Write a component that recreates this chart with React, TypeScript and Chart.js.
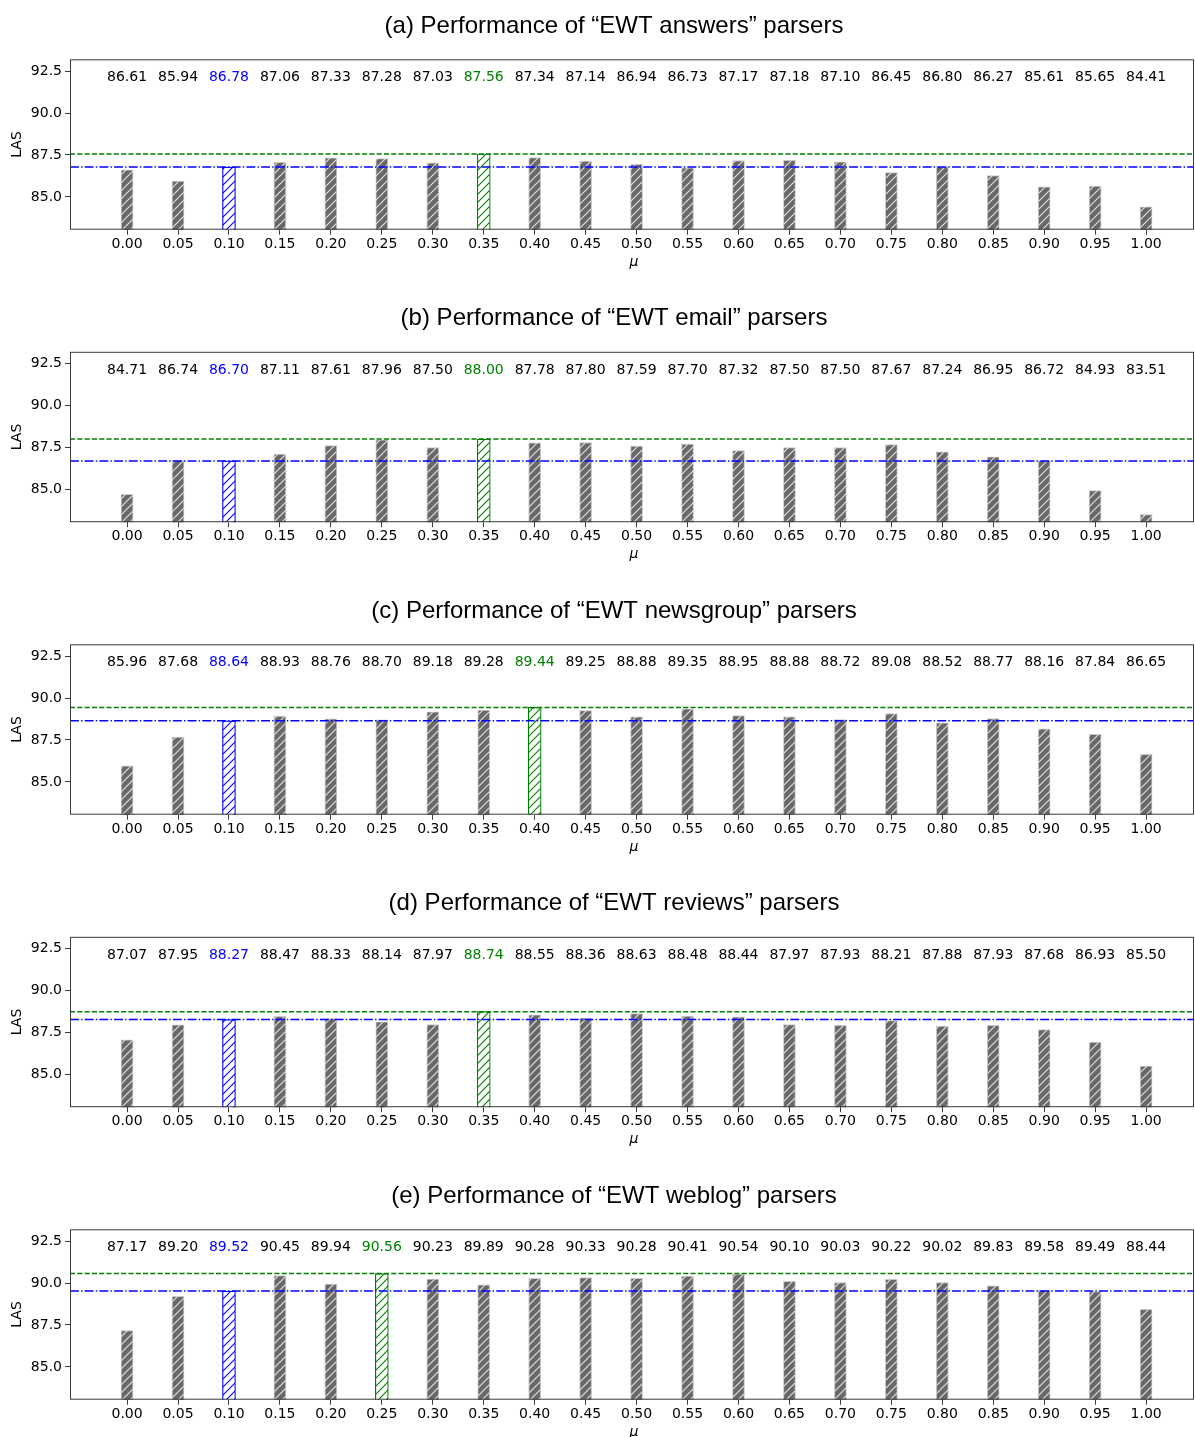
import React, { useEffect, useRef } from "react";
import { Chart, registerables } from "chart.js";

Chart.register(...registerables);

// ---------------- data ----------------
const MU_LABELS = [
  "0.00", "0.05", "0.10", "0.15", "0.20", "0.25", "0.30", "0.35", "0.40", "0.45", "0.50",
  "0.55", "0.60", "0.65", "0.70", "0.75", "0.80", "0.85", "0.90", "0.95", "1.00",
];

const TITLES = [
  "(a) Performance of \u201cEWT answers\u201d parsers",
  "(b) Performance of \u201cEWT email\u201d parsers",
  "(c) Performance of \u201cEWT newsgroup\u201d parsers",
  "(d) Performance of \u201cEWT reviews\u201d parsers",
  "(e) Performance of \u201cEWT weblog\u201d parsers",
];

const ANSWERS = [86.61, 85.94, 86.78, 87.06, 87.33, 87.28, 87.03, 87.56, 87.34, 87.14, 86.94, 86.73, 87.17, 87.18, 87.10, 86.45, 86.80, 86.27, 85.61, 85.65, 84.41];
const EMAIL = [84.71, 86.74, 86.70, 87.11, 87.61, 87.96, 87.50, 88.00, 87.78, 87.80, 87.59, 87.70, 87.32, 87.50, 87.50, 87.67, 87.24, 86.95, 86.72, 84.93, 83.51];
const NEWSGROUP = [85.96, 87.68, 88.64, 88.93, 88.76, 88.70, 89.18, 89.28, 89.44, 89.25, 88.88, 89.35, 88.95, 88.88, 88.72, 89.08, 88.52, 88.77, 88.16, 87.84, 86.65];
const REVIEWS = [87.07, 87.95, 88.27, 88.47, 88.33, 88.14, 87.97, 88.74, 88.55, 88.36, 88.63, 88.48, 88.44, 87.97, 87.93, 88.21, 87.88, 87.93, 87.68, 86.93, 85.50];
const WEBLOG = [87.17, 89.20, 89.52, 90.45, 89.94, 90.56, 90.23, 89.89, 90.28, 90.33, 90.28, 90.41, 90.54, 90.10, 90.03, 90.22, 90.02, 89.83, 89.58, 89.49, 88.44];

const SERIES = [ANSWERS, EMAIL, NEWSGROUP, REVIEWS, WEBLOG];

const Y_TICKS = [85.0, 87.5, 90.0, 92.5];
const BASELINE_INDEX = 2; // mu = 0.10
const Y_MIN = 83.05;
const Y_MAX = 93.2;
const LABEL_Y_VALUE = 92.1;

// ---------------- layout ----------------
const PANEL_STEP = 292.5;
const CANVAS_W = 1195;
const CANVAS_H = 293;
const AXES_TOP = 59.3;
const AXES_BOTTOM = 229.7;
const AXES_LEFT = 70;
const X_MIN = -1.12;
const X_MAX = 20.94;

const TICK_FONT = '"DejaVu Sans", sans-serif';
const TITLE_FONT = '"Liberation Sans", Arial, sans-serif';
const GREEN = "#008000";
const BLUE = "#0000ff";

function makeHatch(bg: string, fg: string, size = 8, lw = 1.2): CanvasPattern | string {
  const c = document.createElement("canvas");
  c.width = size;
  c.height = size;
  const g = c.getContext("2d");
  if (!g) return bg;
  g.fillStyle = bg;
  g.fillRect(0, 0, size, size);
  g.strokeStyle = fg;
  g.lineWidth = lw;
  g.beginPath();
  g.moveTo(0, size);
  g.lineTo(size, 0);
  g.moveTo(-size / 2, size / 2);
  g.lineTo(size / 2, -size / 2);
  g.moveTo(size / 2, size * 1.5);
  g.lineTo(size * 1.5, size / 2);
  g.stroke();
  const p = g.createPattern(c, "repeat");
  return p || bg;
}

function Panel({ index }: { index: number }) {
  const ref = useRef<HTMLCanvasElement | null>(null);
  const top = Math.floor(PANEL_STEP * index);
  const frac = PANEL_STEP * index - top;

  useEffect(() => {
    const canvas = ref.current;
    if (!canvas) return;
    const values = SERIES[index];
    let bestIdx = 0;
    values.forEach((v, i) => {
      if (v > values[bestIdx]) bestIdx = i;
    });
    const bestVal = values[bestIdx];
    const baseVal = values[BASELINE_INDEX];

    const grayData = values
      .map((v, i) => ({ x: i, y: v }))
      .filter((p) => p.x !== bestIdx && p.x !== BASELINE_INDEX);
    const blueData = [{ x: BASELINE_INDEX, y: baseVal }];
    const greenData = [{ x: bestIdx, y: bestVal }];

    const grayHatch = makeHatch("#686868", "#dedede", 8, 1.2);
    const blueHatch = makeHatch("#ffffff", BLUE, 8, 1.1);
    const greenHatch = makeHatch("#ffffff", GREEN, 8, 1.1);

    const panelPlugin = {
      id: "panelDecor",
      afterDatasetsDraw(chart: any) {
        const { ctx, chartArea: a, scales } = chart;
        const ys = scales.y;
        const xs = scales.x;
        ctx.save();
        // reference lines
        ctx.beginPath();
        ctx.rect(a.left, a.top, a.right - a.left, a.bottom - a.top);
        ctx.clip();
        const yG = ys.getPixelForValue(bestVal);
        ctx.strokeStyle = GREEN;
        ctx.lineWidth = 1.5;
        ctx.setLineDash([5.1, 2.2]);
        ctx.beginPath();
        ctx.moveTo(a.left, yG);
        ctx.lineTo(a.right, yG);
        ctx.stroke();
        const yB = ys.getPixelForValue(baseVal);
        ctx.strokeStyle = BLUE;
        ctx.setLineDash([8.9, 2.2, 1.4, 2.2]);
        ctx.beginPath();
        ctx.moveTo(a.left, yB);
        ctx.lineTo(a.right, yB);
        ctx.stroke();
        ctx.restore();

        // spines
        ctx.save();
        ctx.strokeStyle = "#3a3a3a";
        ctx.lineWidth = 1;
        ctx.setLineDash([]);
        ctx.strokeRect(a.left + 0.5, a.top + 0.5, a.right - a.left - 1, a.bottom - a.top - 1);
        ctx.restore();

        // value labels
        ctx.save();
        ctx.font = `14px ${TICK_FONT}`;
        ctx.textAlign = "center";
        ctx.textBaseline = "middle";
        const yL = ys.getPixelForValue(LABEL_Y_VALUE);
        values.forEach((v, i) => {
          ctx.fillStyle = i === bestIdx ? GREEN : i === BASELINE_INDEX ? BLUE : "#000000";
          ctx.fillText(v.toFixed(2), xs.getPixelForValue(i), yL);
        });
        ctx.restore();
      },
      afterDraw(chart: any) {
        const { ctx, chartArea: a } = chart;
        ctx.save();
        // title
        ctx.fillStyle = "#000000";
        ctx.font = `24px ${TITLE_FONT}`;
        ctx.textAlign = "center";
        ctx.textBaseline = "alphabetic";
        ctx.fillText(TITLES[index], 614, 32.5 + frac);
        // x label
        ctx.font = `italic 14px ${TICK_FONT}`;
        ctx.textBaseline = "middle";
        ctx.fillText("\u03bc", (a.left + a.right) / 2 + 2, 262 + frac);
        // y label
        ctx.translate(17, (a.top + a.bottom) / 2);
        ctx.rotate(-Math.PI / 2);
        ctx.font = `14px ${TICK_FONT}`;
        ctx.fillText("LAS", 0, 0);
        ctx.restore();
      },
    };

    const chart = new Chart(canvas, {
      type: "bar",
      data: {
        datasets: [
          {
            data: grayData,
            backgroundColor: grayHatch as any,
            borderColor: "#c9c9c9",
            borderWidth: 1,
            barThickness: 12,
            grouped: false,
          } as any,
          {
            data: blueData,
            backgroundColor: blueHatch as any,
            borderColor: BLUE,
            borderWidth: 1.2,
            barThickness: 13,
            grouped: false,
          } as any,
          {
            data: greenData,
            backgroundColor: greenHatch as any,
            borderColor: GREEN,
            borderWidth: 1.2,
            barThickness: 13,
            grouped: false,
          } as any,
        ],
      },
      options: {
        animation: false,
        responsive: false,
        devicePixelRatio: 1,
        events: [],
        layout: { padding: { top: AXES_TOP + frac, left: 0, right: 1, bottom: 0 } },
        plugins: {
          legend: { display: false },
          tooltip: { enabled: false },
          title: { display: false },
        },
        scales: {
          x: {
            type: "linear",
            offset: false,
            min: X_MIN,
            max: X_MAX,
            afterBuildTicks: (scale: any) => {
              scale.ticks = MU_LABELS.map((_, i) => ({ value: i }));
            },
            afterFit: (scale: any) => {
              scale.height = CANVAS_H - (AXES_BOTTOM + frac);
            },
            ticks: {
              autoSkip: false,
              maxRotation: 0,
              minRotation: 0,
              padding: 1,
              color: "#000000",
              font: { family: TICK_FONT, size: 14 },
              callback: (v: any) => MU_LABELS[Math.round(Number(v))] ?? "",
            },
            grid: {
              display: true,
              offset: false,
              drawOnChartArea: false,
              drawTicks: true,
              tickLength: 5,
              tickColor: "#3a3a3a",
              tickWidth: 1,
            },
            border: { display: false },
          },
          y: {
            type: "linear",
            min: Y_MIN,
            max: Y_MAX,
            afterBuildTicks: (scale: any) => {
              scale.ticks = Y_TICKS.map((v) => ({ value: v }));
            },
            afterFit: (scale: any) => {
              scale.width = AXES_LEFT;
            },
            ticks: {
              padding: 3,
              color: "#000000",
              font: { family: TICK_FONT, size: 14 },
              callback: (v: any) => Number(v).toFixed(1),
            },
            grid: {
              display: true,
              drawOnChartArea: false,
              drawTicks: true,
              tickLength: 5,
              tickColor: "#3a3a3a",
              tickWidth: 1,
            },
            border: { display: false },
          },
        },
      } as any,
      plugins: [panelPlugin as any],
    });
    return () => chart.destroy();
  }, [index, frac]);

  return (
    <canvas
      ref={ref}
      width={CANVAS_W}
      height={CANVAS_H}
      style={{ position: "absolute", left: 0, top, display: "block", width: CANVAS_W, height: CANVAS_H }}
    />
  );
}

export default function App() {
  return (
    <div
      style={{
        position: "absolute",
        left: 0,
        top: 0,
        width: CANVAS_W,
        height: 1437,
        overflow: "hidden",
        background: "#ffffff",
      }}
    >
      {SERIES.map((_, i) => (
        <Panel key={i} index={i} />
      ))}
    </div>
  );
}
